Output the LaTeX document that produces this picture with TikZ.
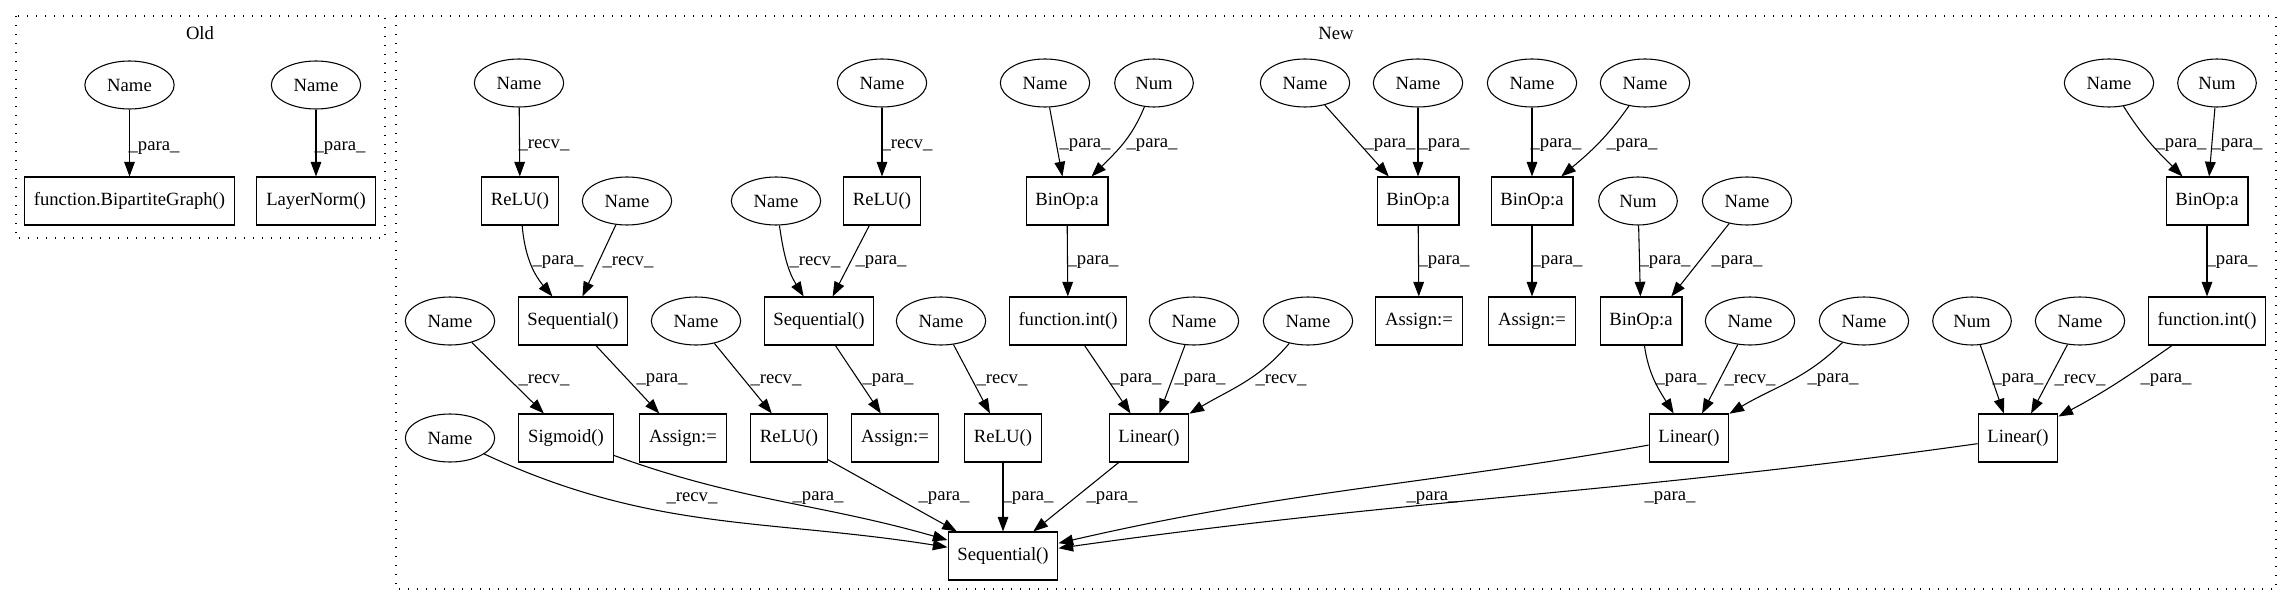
\documentclass[tikz,border=0pt]{standalone}
\usepackage{fontspec}
\setmainfont{Liberation Serif}
\usepackage{tikz}
\usetikzlibrary{shapes,arrows.meta,positioning}

\begin{document}
\begin{tikzpicture}[x=0.75pt, y=-0.75pt,
    every node/.style={font=\fontsize{14}{16}\selectfont},
    nm/.style={draw, ellipse, line width=0.8pt, minimum width=67pt, minimum height=36pt, inner sep=0pt},
    numnode/.style={nm, minimum width=59pt},
    opbox/.style={draw, rectangle, line width=0.8pt, minimum width=54pt, minimum height=36pt, inner xsep=7pt, inner ysep=0pt},
    conn/.style={-{Triangle[length=11pt, width=8pt]}, line width=0.8pt},
    lbl/.style={inner sep=0pt},
    clu/.style={line width=1pt, dash pattern=on 1pt off 5.75pt}]
    \useasboundingbox (0,0) rectangle (2292,606);

    % Clusters
    \draw[clu] (16,16) rectangle (385,238);
    \node (oldtitle) at (200,33) {Old};
    \draw[clu] (396,16) rectangle (2276,589);
    \node (newtitle) at (1336,33) {New};

    % Old
    \node[nm] (oname1) at (129.5,85) {Name};
    \node[nm] (oname2) at (316,85) {Name};
    \node[opbox] (bip) at (129.5,201) {function.BipartiteGraph()};
    \node[opbox] (lnorm) at (316,201) {LayerNorm()};
    \draw[conn] (oname1) -- (bip) node[lbl, at={(154,148)}] {\_para\_};
    \draw[conn] (oname2) -- (lnorm) node[lbl, at={(340,148)}] {\_para\_};

    % New, first row
    \node[nm] (name1) at (519,83) {Name};
    \node[nm] (name2) at (882,83) {Name};
    \node[nm] (name3) at (1045,83) {Name};
    \node[numnode] (num1) at (1154,83) {Num};
    \node[nm] (name4) at (1305,83) {Name};
    \node[nm] (name5) at (1418,83) {Name};
    \node[nm] (name6) at (1532,83) {Name};
    \node[nm] (name7) at (1645,83) {Name};
    \node[nm] (name8) at (2109,83) {Name};
    \node[numnode] (num2) at (2217,83) {Num};

    % second row
    \node[opbox] (relu1) at (520,201) {ReLU()};
    \node[nm] (name9) at (627,201) {Name};
    \node[nm] (name10) at (776,201) {Name};
    \node[opbox] (relu2) at (882,201) {ReLU()};
    \node[opbox] (binop1) at (1067,201) {BinOp:a};
    \node[opbox] (binop2) at (1418,201) {BinOp:a};
    \node[opbox] (binop3) at (1532,201) {BinOp:a};
    \node[numnode] (num3) at (1638,201) {Num};
    \node[nm] (name11) at (1747,201) {Name};
    \node[opbox] (binop4) at (2207,201) {BinOp:a};

    % third row
    \node[nm] (name12) at (450,321) {Name};
    \node[opbox] (seq1) at (573,321) {Sequential()};
    \node[nm] (name13) at (696,321) {Name};
    \node[opbox] (seq2) at (819,321) {Sequential()};
    \node[nm] (name14) at (941,321) {Name};
    \node[opbox] (fint1) at (1068,321) {function.int()};
    \node[nm] (name15) at (1194,321) {Name};
    \node[nm] (name16) at (1308,321) {Name};
    \node[opbox] (asg1) at (1419,321) {Assign:=};
    \node[opbox] (asg2) at (1532,321) {Assign:=};
    \node[opbox] (binop5) at (1641,321) {BinOp:a};
    \node[nm] (name17) at (1750,321) {Name};
    \node[nm] (name18) at (1864,321) {Name};
    \node[numnode] (num4) at (1972,321) {Num};
    \node[nm] (name19) at (2080,321) {Name};
    \node[opbox] (fint2) at (2207,321) {function.int()};

    % fourth row
    \node[nm] (name20) at (450,438) {Name};
    \node[opbox] (sig) at (566,438) {Sigmoid()};
    \node[opbox] (asg3) at (683,438) {Assign:=};
    \node[opbox] (relu3) at (789,438) {ReLU()};
    \node[opbox] (asg4) at (895,438) {Assign:=};
    \node[opbox] (relu4) at (1003,438) {ReLU()};
    \node[opbox] (lin1) at (1149,438) {Linear()};
    \node[opbox] (lin2) at (1689,438) {Linear()};
    \node[opbox] (lin3) at (2018,438) {Linear()};

    % bottom
    \node[opbox] (seqB) at (1003,556) {Sequential()};

    % row 1 -> row 2
    \draw[conn] (name1) -- (relu1) node[lbl, at={(544,145)}] {\_recv\_};
    \draw[conn] (name2) -- (relu2) node[lbl, at={(907,145)}] {\_recv\_};
    \draw[conn] (name3) -- (binop1) node[lbl, at={(1085,145)}] {\_para\_};
    \draw[conn] (num1) to[out=-112, in=45] (binop1) node[lbl, at={(1152,145)}] {\_para\_};
    \draw[conn] (name4) -- (binop2.140) node[lbl, at={(1390,145)}] {\_para\_};
    \draw[conn] (name5) -- (binop2) node[lbl, at={(1444,145)}] {\_para\_};
    \draw[conn] (name6) -- (binop3) node[lbl, at={(1556,145)}] {\_para\_};
    \draw[conn] (name7) to[out=-125, in=40] (binop3) node[lbl, at={(1632,145)}] {\_para\_};
    \draw[conn] (name8) to[out=-58, in=135] (binop4) node[lbl, at={(2181,145)}] {\_para\_};
    \draw[conn] (num2) -- (binop4.85) node[lbl, at={(2237,145)}] {\_para\_};

    % row 2 -> row 3
    \draw[conn] (relu1) to[out=-85, in=130] (seq1) node[lbl, at={(558,262)}] {\_para\_};
    \draw[conn] (name9) -- (seq1.69) node[lbl, at={(628,262)}] {\_recv\_};
    \draw[conn] (name10) to[out=-82, in=122] (seq2) node[lbl, at={(815,262)}] {\_recv\_};
    \draw[conn] (relu2) -- (seq2.61) node[lbl, at={(881,262)}] {\_para\_};
    \draw[conn] (binop1) -- (fint1) node[lbl, at={(1093,262)}] {\_para\_};
    \draw[conn] (binop2) -- (asg1) node[lbl, at={(1444,262)}] {\_para\_};
    \draw[conn] (binop3) -- (asg2) node[lbl, at={(1557,262)}] {\_para\_};
    \draw[conn] (num3) -- (binop5) node[lbl, at={(1665,262)}] {\_para\_};
    \draw[conn] (name11) -- (binop5.39) node[lbl, at={(1737,262)}] {\_para\_};
    \draw[conn] (binop4) -- (fint2) node[lbl, at={(2232,262)}] {\_para\_};

    % row 3 -> row 4
    \draw[conn] (name12) -- (sig.132) node[lbl, at={(544,380)}] {\_recv\_};
    \draw[conn] (seq1) -- (asg3.134) node[lbl, at={(662,380)}] {\_para\_};
    \draw[conn] (name13) -- (relu3.125) node[lbl, at={(776,380)}] {\_recv\_};
    \draw[conn] (seq2) -- (asg4.120) node[lbl, at={(888,380)}] {\_para\_};
    \draw[conn] (name14) -- (relu4.118) node[lbl, at={(1002,380)}] {\_recv\_};
    \draw[conn] (fint1) -- (lin1.127) node[lbl, at={(1136,380)}] {\_para\_};
    \draw[conn] (name15) -- (lin1.67) node[lbl, at={(1200,380)}] {\_para\_};
    \draw[conn] (name16) to[out=-130, in=31] (lin1) node[lbl, at={(1281,380)}] {\_recv\_};
    \draw[conn] (binop5) to[out=-82, in=122] (lin2) node[lbl, at={(1681,380)}] {\_para\_};
    \draw[conn] (name17) -- (lin2.62) node[lbl, at={(1750,380)}] {\_recv\_};
    \draw[conn] (name18) to[out=-135, in=31] (lin2) node[lbl, at={(1833,380)}] {\_para\_};
    \draw[conn] (num4) -- (lin3.120) node[lbl, at={(2018,380)}] {\_para\_};
    \draw[conn] (name19) -- (lin3.62) node[lbl, at={(2080,380)}] {\_recv\_};
    \draw[conn] (fint2) to[out=-145, in=28] (lin3) node[lbl, at={(2166,380)}] {\_para\_};

    % row 4 -> bottom
    \draw[conn] (name20) to[out=-25, in=171] (seqB) node[lbl, at={(692,498)}] {\_recv\_};
    \draw[conn] (sig) to[out=-20, in=164] (seqB) node[lbl, at={(818,498)}] {\_para\_};
    \draw[conn] (relu3) -- (seqB.152) node[lbl, at={(944,498)}] {\_para\_};
    \draw[conn] (relu4) -- (seqB) node[lbl, at={(1028,498)}] {\_para\_};
    \draw[conn] (lin1) -- (seqB.39) node[lbl, at={(1112,498)}] {\_para\_};
    \draw[conn] (lin2) to[out=-170, in=13] (seqB) node[lbl, at={(1432,498)}] {\_para\_};
    \draw[conn] (lin3) to[out=-172, in=8] (seqB) node[lbl, at={(1670,498)}] {\_para\_};
  \end{tikzpicture}
\end{document}
